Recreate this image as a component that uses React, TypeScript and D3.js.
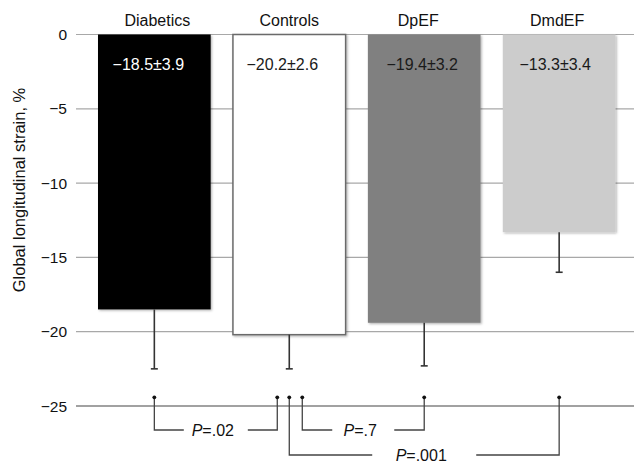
import { useEffect, useRef } from 'react'
import * as d3 from 'd3'

const groups = ['Diabetics', 'Controls', 'DpEF', 'DmdEF']
const means = [-18.5, -20.2, -19.4, -13.3]
const errorEnds = [-22.5, -22.5, -22.3, -16.0]
const valueLabels = ['\u221218.5\u00b13.9', '\u221220.2\u00b12.6', '\u221219.4\u00b13.2', '\u221213.3\u00b13.4']
const yTicks = [0, -5, -10, -15, -20, -25]

// comparisons between groups (P values)
const compFrom = ['Diabetics', 'Controls', 'Controls']
const compTo = ['Controls', 'DpEF', 'DmdEF']
const compP = ['.02', '.7', '.001']

// layout only: attachment offsets on the x axis, bracket row, gap around text
const compFromOffset = [0, 13, 0]
const compToOffset = [-12, 0, 0]
const compRow = [0, 0, 1]
const compGap = [32, 31, 52]

// small horizontal nudges of the labels, as in the original figure
const nameShift = [3, 0, -6, -2]
const valueShift = [-6, -7, -2, -4]

const barFill = ['#000000', '#ffffff', '#808080', '#cccccc']
const labelFill = ['#ffffff', '#1a1a1a', '#1a1a1a', '#1a1a1a']

const W = 634
const H = 464
const FONT = 'Liberation Sans, Arial, Helvetica, sans-serif'

export default function App() {
  const svgRef = useRef<SVGSVGElement>(null)

  useEffect(() => {
    if (!svgRef.current) return
    const svg = d3.select(svgRef.current)
    svg.selectAll('*').remove()

    const y = d3.scaleLinear().domain([-25, 0]).range([406, 34.5])
    const x = d3.scaleBand<string>().domain(groups).range([98, 615.5]).paddingInner(0.165).paddingOuter(0)
    const gridLeft = 76

    const defs = svg.append('defs')
    const filt = defs.append('filter').attr('id', 'shadow').attr('x', '-10%').attr('y', '-10%').attr('width', '130%').attr('height', '130%')
    filt.append('feDropShadow')
      .attr('dx', 1.2)
      .attr('dy', 1.2)
      .attr('stdDeviation', 1)
      .attr('flood-color', '#000')
      .attr('flood-opacity', 0.3)

    // grid lines
    yTicks.forEach(t => {
      svg.append('line')
        .attr('x1', gridLeft)
        .attr('x2', W)
        .attr('y1', y(t))
        .attr('y2', y(t))
        .attr('stroke', t === -25 ? '#444' : '#a8a8a8')
        .attr('stroke-width', 1.2)

      svg.append('text')
        .attr('x', 67)
        .attr('y', y(t))
        .attr('text-anchor', 'end')
        .attr('dominant-baseline', 'central')
        .attr('fill', '#111')
        .attr('font-family', FONT)
        .attr('font-size', '15.5px')
        .text(t === 0 ? '0' : `\u2212${Math.abs(t)}`)
    })

    // y label
    svg.append('text')
      .attr('transform', `translate(19, 190) rotate(-90)`)
      .attr('text-anchor', 'middle')
      .attr('dominant-baseline', 'central')
      .attr('fill', '#111')
      .attr('font-family', FONT)
      .attr('font-size', '16.5px')
      .text('Global longitudinal strain, %')

    // bars
    groups.forEach((g, i) => {
      const bx = x(g) as number
      const bw = x.bandwidth()
      svg.append('rect')
        .attr('x', bx)
        .attr('y', y(0))
        .attr('width', bw)
        .attr('height', y(means[i]) - y(0))
        .attr('fill', barFill[i])
        .attr('stroke', g === 'Controls' ? '#6a6a6a' : 'none')
        .attr('stroke-width', 1.5)
        .attr('filter', 'url(#shadow)')

      // error bar
      const cx = bx + bw / 2
      svg.append('line')
        .attr('x1', cx).attr('x2', cx)
        .attr('y1', y(means[i])).attr('y2', y(errorEnds[i]))
        .attr('stroke', '#333').attr('stroke-width', 1.6)
      svg.append('line')
        .attr('x1', cx - 3.5).attr('x2', cx + 3.5)
        .attr('y1', y(errorEnds[i])).attr('y2', y(errorEnds[i]))
        .attr('stroke', '#333').attr('stroke-width', 1.6)

      // category label
      svg.append('text')
        .attr('x', cx + nameShift[i])
        .attr('y', 20)
        .attr('text-anchor', 'middle')
        .attr('dominant-baseline', 'central')
        .attr('fill', '#111')
        .attr('font-family', FONT)
        .attr('font-size', '16px')
        .text(g)

      // value label
      svg.append('text')
        .attr('x', cx + valueShift[i])
        .attr('y', 64)
        .attr('text-anchor', 'middle')
        .attr('dominant-baseline', 'central')
        .attr('fill', labelFill[i])
        .attr('font-family', FONT)
        .attr('font-size', '16px')
        .text(valueLabels[i])
    })

    // comparison brackets
    const dotY = y(-25) - 8.7
    const rowY = [y(-25) + 24, y(-25) + 49]
    compFrom.forEach((a, i) => {
      const x1 = (x(a) as number) + x.bandwidth() / 2 + compFromOffset[i]
      const x2 = (x(compTo[i]) as number) + x.bandwidth() / 2 + compToOffset[i]
      const by = rowY[compRow[i]]
      const mid = (x1 + x2) / 2
      const gap = compGap[i]

      const path = d3.path()
      path.moveTo(x1, dotY)
      path.lineTo(x1, by)
      path.lineTo(mid - gap, by)
      path.moveTo(mid + gap, by)
      path.lineTo(x2, by)
      path.lineTo(x2, dotY)
      svg.append('path')
        .attr('d', path.toString())
        .attr('fill', 'none')
        .attr('stroke', '#444')
        .attr('stroke-width', 1.3)

      ;[x1, x2].forEach(px => {
        svg.append('circle')
          .attr('cx', px)
          .attr('cy', dotY)
          .attr('r', 1.9)
          .attr('fill', '#111')
      })

      const t = svg.append('text')
        .attr('x', mid - 3)
        .attr('y', by)
        .attr('text-anchor', 'middle')
        .attr('dominant-baseline', 'central')
        .attr('fill', '#111')
        .attr('font-family', FONT)
        .attr('font-size', '16px')
      t.append('tspan').attr('font-style', 'italic').text('P')
      t.append('tspan').text(`=${compP[i]}`)
    })
  }, [])

  return (
    <div style={{ position: 'absolute', left: 0, top: 0 }}>
      <svg ref={svgRef} width={W} height={H} style={{ display: 'block', background: '#fff' }} />
    </div>
  )
}
